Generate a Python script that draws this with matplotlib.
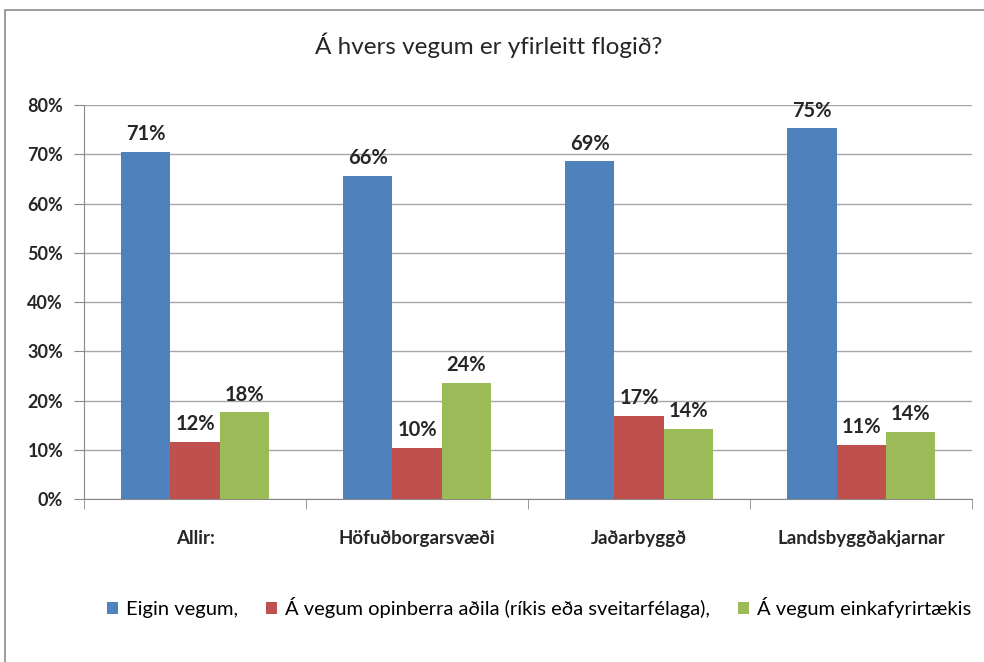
import numpy as np
import matplotlib.pyplot as plt
from matplotlib.patches import Rectangle

plt.rcParams['font.family'] = ['Lato', 'DejaVu Sans']

categories = ["Allir:", "Höfuðborgarsvæði", "Jaðarbyggð", "Landsbyggðakjarnar"]
series_names = ["Eigin vegum,",
                "Á vegum opinberra aðila (ríkis eða sveitarfélaga),",
                "Á vegum einkafyrirtækis"]
eigin = [70.6, 65.7, 68.6, 75.3]
opinber = [11.7, 10.4, 16.9, 11.0]
einka = [17.6, 23.6, 14.3, 13.7]
colors = ["#4F81BD", "#C0504D", "#9BBB59"]

fig = plt.figure(figsize=(9.84, 6.62), dpi=100)
ax = fig.add_axes([0.0854, 0.246, 0.9026, 0.595])

# ramminn utan um myndina
fig.patches.append(Rectangle((0.005, -0.1), 1.2, 1.085, transform=fig.transFigure,
                             fill=False, edgecolor="#8c8c8c", linewidth=1.2))

x = np.arange(len(categories))
w = 0.222
for i, (vals, name) in enumerate(zip([eigin, opinber, einka], series_names)):
    pos = x + (i - 1) * w
    ax.bar(pos, vals, width=w, color=colors[i], label=name, zorder=3)
    for px, v in zip(pos, vals):
        ax.text(px, v + 1.6, f"{round(v):.0f}%", ha="center", va="bottom",
                fontsize=14.5, fontweight="bold", color="#262626")

ax.set_ylim(0, 80)
ax.set_xlim(-0.5, 3.5)
ax.set_yticks(range(0, 81, 10))
ax.set_yticklabels([f"{t}%" for t in range(0, 81, 10)], fontsize=13,
                   fontweight="bold", color="#262626")
ax.yaxis.grid(True, color="#a6a6a6", linewidth=1, zorder=0)
ax.set_axisbelow(True)

ax.set_xticks(x)
ax.set_xticklabels(categories, fontsize=13.5, fontweight="bold", color="#262626")
ax.tick_params(axis="x", length=0, pad=22)
ax.set_xticks(np.arange(-0.5, 4, 1), minor=True)
ax.tick_params(axis="x", which="minor", length=7, color="#888888", direction="out")
ax.tick_params(axis="y", length=7, color="#888888", pad=8)

for s in ["top", "right"]:
    ax.spines[s].set_visible(False)
for s in ["left", "bottom"]:
    ax.spines[s].set_color("#888888")

fig.text(0.497, 0.932, "Á hvers vegum er yfirleitt flogið?", ha="center", va="center",
         fontsize=17.5, color="#262626")

fig.legend(loc="center", bbox_to_anchor=(0.548, 0.082), ncol=3, frameon=False,
           fontsize=14.5, handlelength=0.55, handleheight=0.55, handletextpad=0.4,
           columnspacing=1.4)

fig.savefig("out.png", dpi=100)
